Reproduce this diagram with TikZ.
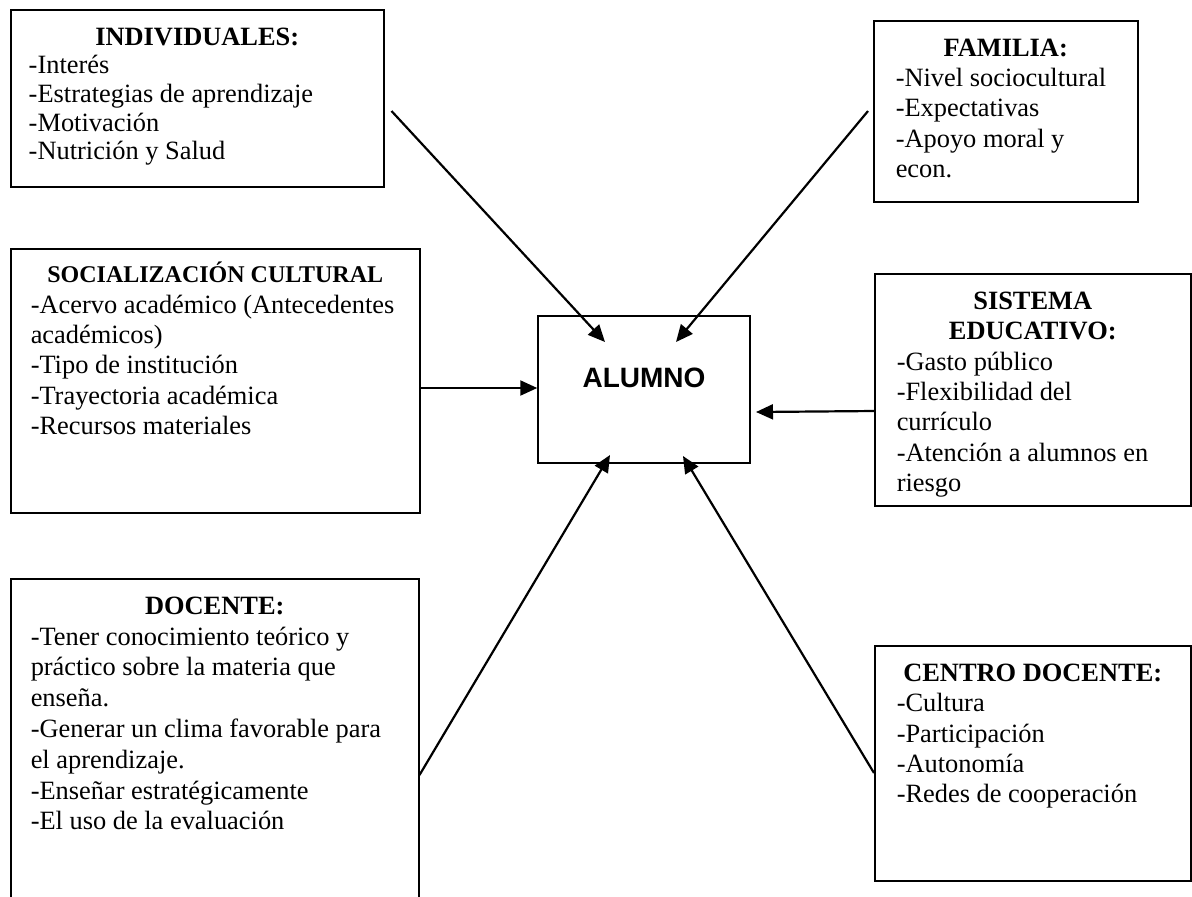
\documentclass[tikz,border=0pt]{standalone}
\usepackage{fontspec}
\setmainfont{Liberation Serif}
\newfontfamily\arialfont{Liberation Sans}
\usetikzlibrary{positioning,arrows.meta,calc}

\tikzset{
  caja/.style={draw, line width=0.75pt, anchor=north west, inner ysep=9pt,
    font=\fontsize{13.2}{15.2}\selectfont},
  flecha/.style={line width=1.1pt, -{Triangle[length=8.5pt,width=7.5pt]}}
}
\newcommand{\titulo}[1]{{\centering\textbf{#1}\par}\raggedright}

\begin{document}
\begin{tikzpicture}[x=0.5pt,y=-0.5pt]
\fill[white] (0,0) rectangle (1192,896);
\useasboundingbox (0,0) rectangle (1192,896);

% cajas de factores
\node[caja, inner xsep=9pt, font=\fontsize{13.2}{14.3}\selectfont] (indiv) at (10,9)
  {\parbox[c][70.5pt][t]{168.5pt}{\titulo{INDIVIDUALES:}
   -Interés\\-Estrategias de aprendizaje\\-Motivación\\-Nutrición y Salud}};
\node[caja, inner xsep=11pt] (fam) at (873,20)
  {\parbox[c][72.5pt][t]{110pt}{\titulo{FAMILIA:}
   -Nivel sociocultural\\-Expectativas\\-Apoyo moral y\\econ.}};
\node[caja, inner xsep=10pt] (soc) at (10,248)
  {\parbox[c][114pt][t]{184.5pt}{\titulo{\fontsize{12}{14}\selectfont SOCIALIZACI\smash{Ó}N CULTURAL}
   -Acervo académico (Antecedentes\\académicos)\\-Tipo de institución\\-Trayectoria académica\\-Recursos materiales}};
\node[caja, inner xsep=11pt] (sis) at (874,273)
  {\parbox[c][98pt][t]{136pt}{\titulo{SISTEMA\\EDUCATIVO:}
   -Gasto público\\-Flexibilidad del\\currículo\\-Atención a alumnos en\\riesgo}};
\node[caja, inner xsep=10pt, font=\fontsize{13.2}{15.4}\selectfont] (doc) at (10,578)
  {\parbox[c][144pt][t]{184pt}{\titulo{DOCENTE:}
   -Tener conocimiento teórico y\\práctico sobre la materia que\\enseña.\\-Generar un clima favorable para\\el aprendizaje.\\-Enseñar estratégicamente\\-El uso de la evaluación}};
\node[caja, inner xsep=11pt] (cen) at (874,645)
  {\parbox[c][99.5pt][t]{136pt}{\titulo{CENTRO DOCENTE:}
   -Cultura\\-Participación\\-Autonomía\\-Redes de cooperación}};

% caja central
\node[draw, line width=0.75pt, minimum width=106pt, minimum height=73.5pt, inner sep=0pt,
  text height=10pt, text depth=12.2pt, font=\arialfont\fontsize{14}{16}\selectfont\bfseries]
  (alumno) at (644,389.5) {ALUMNO};

% puntas dentro de ALUMNO
\coordinate (tip-ind) at (605,342);
\coordinate (tip-fam) at (676,342);
\coordinate (tip-sis) at (756,412);
\coordinate (tip-doc) at (610,455);
\coordinate (tip-cen) at (683,456);

\draw[flecha] ($(indiv.east |- 0,111)+(7,0)$) -- (tip-ind);
\draw[flecha] ($(fam.west |- 0,111)+(-5,0)$) -- (tip-fam);
\draw[flecha] (soc.east |- 0,388) -- (alumno.west |- 0,388);
\draw[flecha] (sis.west |- 0,411) -- (tip-sis);
\draw[flecha] (doc.east |- 0,775) -- (tip-doc);
\draw[flecha] (cen.west |- 0,773) -- (tip-cen);
\end{tikzpicture}
\end{document}
